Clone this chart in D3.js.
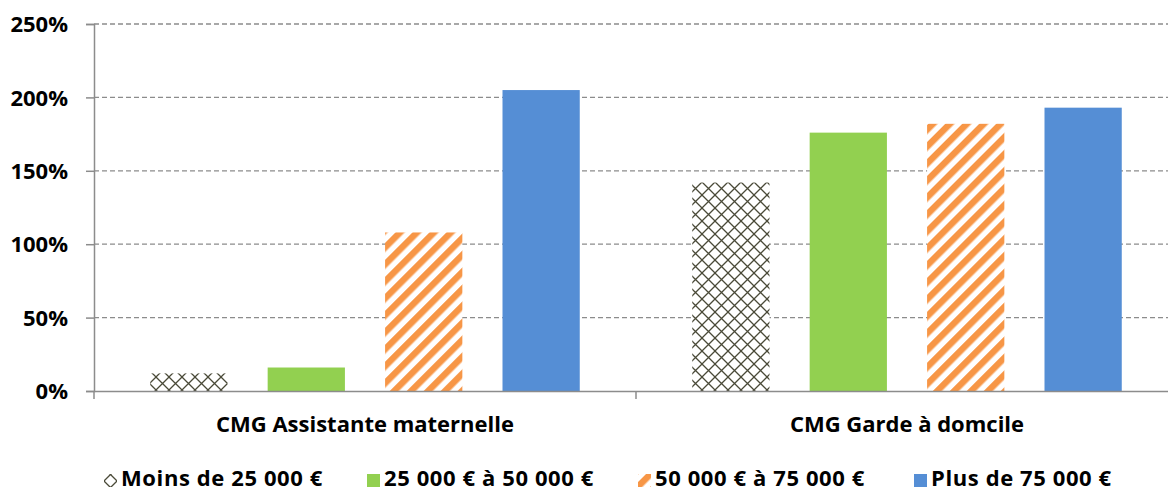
<!DOCTYPE html>
<html><head><meta charset="utf-8">
<script src="https://cdn.jsdelivr.net/npm/d3@7"></script>
<style>body{margin:0;background:#fff;} text{font-family:"Open Sans",Lato,sans-serif;font-weight:bold;fill:#000;}</style>
</head><body>
<svg id="c" width="1168" height="491"></svg>
<script>
const categories = ["CMG Assistante maternelle", "CMG Garde à domcile"];
const seriesNames = ["Moins de 25 000 €", "25 000 € à 50 000 €", "50 000 € à 75 000 €", "Plus de 75 000 €"];
const moins25 = [12, 142];
const de25a50 = [16, 176];
const de50a75 = [108, 182];
const plus75 = [205, 193];
const yTicks = [0, 50, 100, 150, 200, 250];

const seriesValues = [moins25, de25a50, de50a75, plus75];
const svg = d3.select("#c");
const defs = svg.append("defs");
const p1 = defs.append("pattern").attr("id","hatch").attr("patternUnits","userSpaceOnUse").attr("width",13).attr("height",13);
p1.append("rect").attr("width",13).attr("height",13).attr("fill","#fff");
p1.append("path").attr("d","M0,0L13,13M13,0L0,13").attr("stroke","#4a4a38").attr("stroke-width",1.3);
const p2 = defs.append("pattern").attr("id","stripe").attr("patternUnits","userSpaceOnUse").attr("width",12).attr("height",12).attr("patternTransform","rotate(45)");
p2.append("rect").attr("width",12).attr("height",12).attr("fill","#fff");
p2.append("rect").attr("width",6.5).attr("height",12).attr("fill","#f79646");
const fills = ["url(#hatch)", "#92d050", "url(#stripe)", "#558ed5"];

const m = {l:94, r:1178, t:24, b:391};
const y = d3.scaleLinear().domain([0,250]).range([m.b, m.t]);
const x0 = d3.scaleBand().domain(categories).range([m.l, m.r]).padding(0);
const x1 = d3.scaleBand().domain(d3.range(4)).range([0, x0.bandwidth()]).paddingInner(0.342).paddingOuter(0.479);

svg.append("g").selectAll("line").data(yTicks.filter(d=>d>0)).join("line")
  .attr("x1",m.l).attr("x2",m.r).attr("y1",d=>y(d)).attr("y2",d=>y(d))
  .attr("stroke","#8c8c8c").attr("stroke-width",1.3).attr("stroke-dasharray","5,3");

categories.forEach((c,ci)=>{
  seriesValues.forEach((vals,si)=>{
    svg.append("rect").attr("x",x0(c)+x1(si)).attr("width",x1.bandwidth())
      .attr("y",y(vals[ci])).attr("height",y(0)-y(vals[ci])).attr("fill",fills[si]);
  });
});

const ya = svg.append("g").attr("transform",`translate(${m.l},0)`).call(d3.axisLeft(y).tickValues(yTicks).tickFormat(d=>d+"%").tickSize(8).tickPadding(18));
ya.select(".domain").attr("stroke","#8c8c8c").attr("stroke-width",1.5);
ya.selectAll(".tick line").attr("stroke","#8c8c8c").attr("stroke-width",1.5);
ya.selectAll("text").style("font-size","22px").attr("font-family",null).attr("dy","0.35em");
const xa = svg.append("g").attr("transform",`translate(0,${m.b})`).call(d3.axisBottom(x0).tickSize(0).tickPadding(25));
xa.select(".domain").attr("stroke","#8c8c8c").attr("stroke-width",1.5);
xa.selectAll("text").style("font-size","22px").attr("font-family",null);
svg.append("g").selectAll("line").data([m.l, ...categories.map(c=>x0(c)+x0.bandwidth())]).join("line")
  .attr("x1",d=>d).attr("x2",d=>d).attr("y1",m.b).attr("y2",m.b+8).attr("stroke","#8c8c8c").attr("stroke-width",1.5);

const lx = [104, 367, 638, 914];
const lg = svg.append("g");
seriesNames.forEach((n,i)=>{
  lg.append("rect").attr("x",lx[i]).attr("y",474).attr("width",13).attr("height",13).attr("fill",fills[i]);
  lg.append("text").attr("x",lx[i]+17).attr("y",486).style("font-size","22px").style("letter-spacing","0.6px").text(n);
});
</script>
</body></html>
